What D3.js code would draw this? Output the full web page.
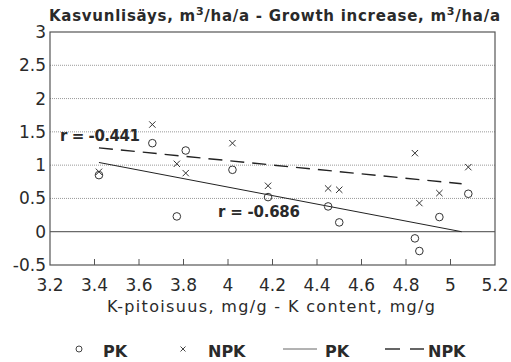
<!DOCTYPE html>
<html>
<head>
<meta charset="utf-8">
<script src="https://cdn.jsdelivr.net/npm/d3@7"></script>
<style>
  body { margin: 0; background: #fff; }
  svg { display: block; font-family: "DejaVu Sans", "Liberation Sans", Arial, sans-serif; }
</style>
</head>
<body>
<div id="chart"></div>
<script>
// K content (mg/g) and growth increase for each treatment
var pkX   = [3.42, 3.66, 3.77, 3.81, 4.02, 4.18, 4.45, 4.50, 4.84, 4.86, 4.95, 5.08];
var pkY   = [0.85, 1.33, 0.23, 1.22, 0.93, 0.52, 0.38, 0.14, -0.10, -0.29, 0.22, 0.57];
var npkX  = [3.42, 3.66, 3.77, 3.81, 4.02, 4.18, 4.45, 4.50, 4.84, 4.86, 4.95, 5.08];
var npkY  = [0.90, 1.61, 1.02, 0.88, 1.33, 0.69, 0.65, 0.63, 1.18, 0.43, 0.58, 0.97];

// regression lines (end points)
var pkLineX  = [3.42, 5.05], pkLineY  = [1.04, 0.0];
var npkLineX = [3.42, 5.05], npkLineY = [1.26, 0.72];

var xTicks = [3.2, 3.4, 3.6, 3.8, 4, 4.2, 4.4, 4.6, 4.8, 5, 5.2];
var yTicks = [-0.5, 0, 0.5, 1, 1.5, 2, 2.5, 3];

var svgwidth = 511, svgheight = 362,
    margin = {top: 32, right: 16, bottom: 97, left: 50};
var width = svgwidth - margin.left - margin.right,
    height = svgheight - margin.top - margin.bottom;

var svg = d3.select("#chart").append("svg")
    .attr("width", svgwidth)
    .attr("height", svgheight);
var g = svg.append("g").attr("transform", "translate(" + margin.left + "," + margin.top + ")");

var x = d3.scaleLinear().domain([3.2, 5.2]).range([0, width]),
    y = d3.scaleLinear().domain([-0.5, 3]).range([height, 0]);

var ink = "#2a2a2a";

// grid lines
g.selectAll(".grid").data(yTicks.filter(function(d){ return d > -0.5 && d < 3; }))
  .enter().append("line")
    .attr("x1", 0).attr("x2", width)
    .attr("y1", function(d){ return y(d); })
    .attr("y2", function(d){ return y(d); })
    .attr("stroke", function(d){ return d === 0 ? "#444" : "#999"; })
    .attr("stroke-width", 1)
    .attr("stroke-dasharray", function(d){ return d === 0 ? null : "1,1"; });

// frame
g.append("rect").attr("width", width).attr("height", height)
  .attr("fill", "none").attr("stroke", "#555").attr("stroke-width", 1.2);

// x ticks (inside, upward)
g.selectAll(".xt").data(xTicks.slice(1, -1)).enter().append("line")
  .attr("x1", function(d){ return x(d); }).attr("x2", function(d){ return x(d); })
  .attr("y1", height).attr("y2", height - 6)
  .attr("stroke", "#555");

g.selectAll(".xl").data(xTicks).enter().append("text")
  .attr("x", function(d){ return x(d); })
  .attr("y", height + 26)
  .attr("text-anchor", "middle")
  .attr("font-size", 17).attr("fill", ink)
  .text(function(d){ return d; });

g.selectAll(".yl").data(yTicks).enter().append("text")
  .attr("x", -4)
  .attr("y", function(d){ return y(d) + 6; })
  .attr("text-anchor", "end")
  .attr("font-size", 17).attr("fill", ink)
  .text(function(d){ return d; });

// regression lines
var line = d3.line().x(function(d){ return x(d[0]); }).y(function(d){ return y(d[1]); });
g.append("path").attr("d", line(d3.zip(pkLineX, pkLineY)))
  .attr("fill", "none").attr("stroke", "#222").attr("stroke-width", 1);
g.append("path").attr("d", line(d3.zip(npkLineX, npkLineY)))
  .attr("fill", "none").attr("stroke", "#222").attr("stroke-width", 1.4)
  .attr("stroke-dasharray", "14,8");

// markers
g.selectAll(".pk").data(d3.zip(pkX, pkY)).enter().append("circle")
  .attr("cx", function(d){ return x(d[0]); })
  .attr("cy", function(d){ return y(d[1]); })
  .attr("r", 3.8).attr("fill", "none").attr("stroke", "#333").attr("stroke-width", 1);

var cross = d3.symbol().type(d3.symbolX).size(28);
g.selectAll(".npk").data(d3.zip(npkX, npkY)).enter().append("path")
  .attr("d", cross)
  .attr("transform", function(d){ return "translate(" + x(d[0]) + "," + y(d[1]) + ")"; })
  .attr("fill", "none").attr("stroke", "#333").attr("stroke-width", 1);

// r labels
g.append("text").attr("x", 10).attr("y", y(1.37)).attr("font-size", 15).attr("font-weight", "bold")
  .attr("fill", ink).attr("textLength", 80).text("r = -0.441");
g.append("text").attr("x", 168).attr("y", y(0.22)).attr("font-size", 15).attr("font-weight", "bold")
  .attr("fill", ink).attr("textLength", 82).text("r = -0.686");

// title
var title = svg.append("text").attr("x", 49).attr("y", 21)
  .attr("font-size", 15).attr("font-weight", "bold").attr("fill", ink)
  .attr("textLength", 451).attr("lengthAdjust", "spacing");
title.append("tspan").text("Kasvunlisäys, m");
title.append("tspan").attr("font-size", 11).attr("dy", -6).text("3");
title.append("tspan").attr("dy", 6).text("/ha/a - Growth increase, m");
title.append("tspan").attr("font-size", 11).attr("dy", -6).text("3");
title.append("tspan").attr("dy", 6).text("/ha/a");

// x axis title
svg.append("text").attr("x", 271).attr("y", 312).attr("text-anchor", "middle")
  .attr("font-size", 16).attr("fill", ink)
  .attr("textLength", 328).attr("lengthAdjust", "spacing")
  .text("K-pitoisuus, mg/g - K content, mg/g");

// legend
var ly = 357, my = 349;
var lg = svg.append("g");
lg.append("circle").attr("cx", 79).attr("cy", my).attr("r", 3).attr("fill", "none").attr("stroke", "#444");
lg.append("text").attr("x", 103).attr("y", ly).attr("font-size", 16).attr("font-weight", "bold").attr("fill", ink).text("PK");
lg.append("path").attr("d", d3.symbol().type(d3.symbolX).size(18)).attr("transform", "translate(183," + my + ")")
  .attr("fill", "none").attr("stroke", "#444");
lg.append("text").attr("x", 208).attr("y", ly).attr("font-size", 16).attr("font-weight", "bold").attr("fill", ink).text("NPK");
lg.append("line").attr("x1", 283).attr("x2", 317).attr("y1", my).attr("y2", my).attr("stroke", "#666");
lg.append("text").attr("x", 325).attr("y", ly).attr("font-size", 16).attr("font-weight", "bold").attr("fill", ink).text("PK");
lg.append("line").attr("x1", 385).attr("x2", 424).attr("y1", my).attr("y2", my).attr("stroke", "#333")
  .attr("stroke-width", 1.4).attr("stroke-dasharray", "15,10");
lg.append("text").attr("x", 428).attr("y", ly).attr("font-size", 16).attr("font-weight", "bold").attr("fill", ink).text("NPK");
</script>
</body>
</html>
